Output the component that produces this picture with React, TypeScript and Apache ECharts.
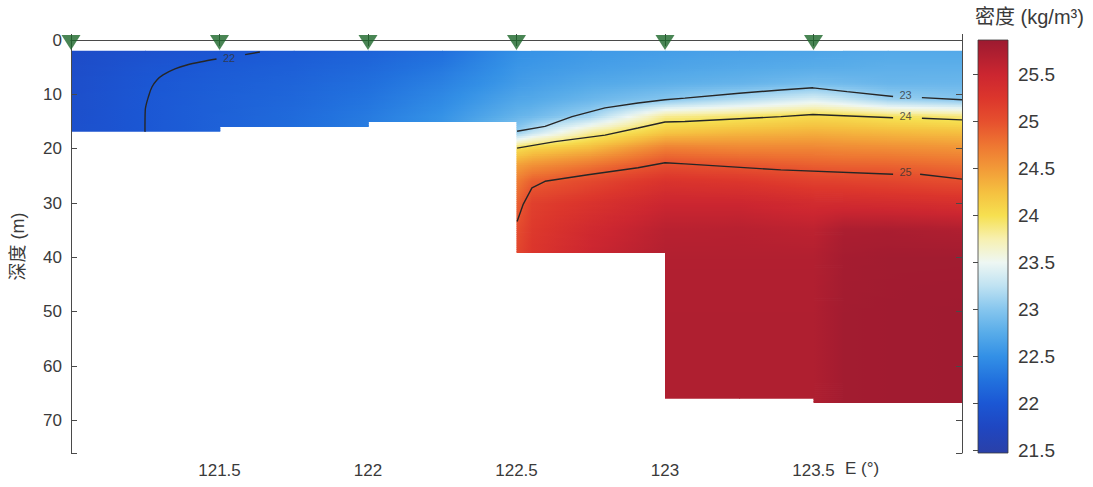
import React, { useEffect, useRef } from "react";
import * as echarts from "echarts";

// ---------- data ----------
const depthLevels = [2, 5, 8, 11, 14, 17, 20, 23, 26, 30, 35, 40, 50, 67];
const gridLon = [121.0, 121.25, 121.5, 121.75, 122.0, 122.25, 122.5, 122.55, 122.75, 123.0, 123.25, 123.5, 123.6, 123.75, 124.0];
const N = null;
// density (kg/m3) per longitude column, at depthLevels
const density: (number | null)[][] = [
  [21.82, 21.84, 21.86, 21.87, 21.88, 21.89, N, N, N, N, N, N, N, N],
  [21.9, 21.96, 21.99, 22.0, 22.0, 22.0, N, N, N, N, N, N, N, N],
  [21.97, 22.03, 22.06, 22.08, 22.09, 22.1, N, N, N, N, N, N, N, N],
  [22.03, 22.08, 22.12, 22.15, 22.18, 22.2, N, N, N, N, N, N, N, N],
  [22.1, 22.16, 22.22, 22.27, 22.32, 22.35, N, N, N, N, N, N, N, N],
  [22.22, 22.3, 22.38, 22.45, 22.52, 22.56, N, N, N, N, N, N, N, N],
  [22.5, 22.55, 22.6, 22.7, 22.82, 23.05, 24.02, 24.45, 24.7, 24.88, 25.03, 25.1, N, N],
  [22.52, 22.57, 22.63, 22.72, 22.86, 23.25, 24.12, 24.55, 24.9, 25.15, 25.22, 25.27, N, N],
  [22.58, 22.63, 22.72, 22.85, 23.12, 23.8, 24.3, 24.75, 25.08, 25.3, 25.45, 25.52, N, N],
  [22.62, 22.68, 22.78, 23.0, 23.82, 24.2, 24.7, 25.03, 25.3, 25.5, 25.65, 25.7, 25.72, 25.72],
  [22.65, 22.72, 22.82, 23.2, 23.92, 24.3, 24.65, 24.97, 25.25, 25.5, 25.66, 25.7, 25.72, 25.72],
  [22.68, 22.75, 22.9, 23.4, 24.04, 24.35, 24.65, 24.9, 25.15, 25.42, 25.62, 25.7, 25.72, 25.72],
  [22.7, 22.76, 22.88, 23.3, 24.02, 24.33, 24.62, 24.88, 25.13, 25.42, 25.75, 25.8, 25.82, 25.82],
  [22.72, 22.78, 22.84, 23.1, 23.95, 24.3, 24.6, 24.87, 25.1, 25.4, 25.76, 25.82, 25.83, 25.83],
  [22.72, 22.78, 22.85, 23.0, 23.88, 24.25, 24.55, 24.8, 25.03, 25.35, 25.72, 25.82, 25.84, 25.84],
];

const stationLon = [121.0, 121.5, 122.0, 122.5, 123.0, 123.5];
const stationBottom = [16.9, 16.0, 15.1, 39.2, 66.0, 66.8];

// isopycnal contours (two segments each, broken by the label)
const c22aLon = [121.249, 121.25, 121.262, 121.273, 121.29, 121.31, 121.35, 121.39, 121.44, 121.49];
const c22aDepth = [16.9, 12.9, 10.2, 8.6, 7.3, 6.4, 5.3, 4.6, 4.0, 3.5];
const c22bLon = [121.586, 121.636];
const c22bDepth = [2.7, 2.2];
const c23aLon = [122.502, 122.596, 122.687, 122.798, 122.909, 123.0, 123.067, 123.25, 123.39, 123.498, 123.613, 123.768];
const c23aDepth = [16.8, 15.9, 14.1, 12.5, 11.6, 11.0, 10.7, 9.8, 9.2, 8.8, 9.5, 10.4];
const c23bLon = [123.865, 124.0];
const c23bDepth = [10.6, 11.0];
const c24aLon = [122.502, 122.63, 122.798, 122.909, 123.0, 123.067, 123.39, 123.498, 123.768];
const c24aDepth = [19.9, 18.7, 17.5, 16.2, 15.1, 15.0, 14.1, 13.7, 14.3];
const c24bLon = [123.865, 124.0];
const c24bDepth = [14.4, 14.7];
const c25aLon = [122.502, 122.522, 122.552, 122.596, 122.741, 122.909, 123.0, 123.067, 123.39, 123.768];
const c25aDepth = [33.4, 30.3, 27.2, 26.0, 24.8, 23.5, 22.6, 22.8, 23.9, 24.7];
const c25bLon = [123.859, 124.0];
const c25bDepth = [24.7, 25.6];

const contourLabelText = ["22", "23", "24", "25"];
const contourLabelLon = [121.532, 123.81, 123.81, 123.81];
const contourLabelDepth = [3.3, 10.1, 14.0, 24.3];

const xTickLabels = [121.5, 122, 122.5, 123, 123.5];
const colorbarTicks = [21.5, 22, 22.5, 23, 23.5, 24, 24.5, 25, 25.5];
const cbMin = 21.47;
const cbMax = 25.87;

// colormap
const cmapStops = [21.47, 21.75, 22, 22.25, 22.5, 22.75, 23, 23.25, 23.5, 23.75, 24, 24.25, 24.5, 24.75, 25, 25.25, 25.5, 25.87];
const cmapColors = ["#2a40a8", "#1f47c2", "#1b57d4", "#2272de", "#3390e6", "#58ace9", "#86c6ee", "#bfe2f2", "#eef7f3", "#f7f0b0", "#f6e050", "#f5c040", "#f29a38", "#ee7632", "#e6502e", "#dc362c", "#cc2630", "#9c1a30"];

function hex2rgb(h: string): number[] {
  return [parseInt(h.slice(1, 3), 16), parseInt(h.slice(3, 5), 16), parseInt(h.slice(5, 7), 16)];
}
const cmapRgb = cmapColors.map(hex2rgb);
function cmap(v: number): string {
  const n = cmapStops.length;
  if (v <= cmapStops[0]) return cmapColors[0];
  if (v >= cmapStops[n - 1]) return cmapColors[n - 1];
  let k = 0;
  while (v > cmapStops[k + 1]) k++;
  const t = (v - cmapStops[k]) / (cmapStops[k + 1] - cmapStops[k]);
  const a = cmapRgb[k], b = cmapRgb[k + 1];
  return `rgb(${Math.round(a[0] + (b[0] - a[0]) * t)},${Math.round(a[1] + (b[1] - a[1]) * t)},${Math.round(a[2] + (b[2] - a[2]) * t)})`;
}

// build quads table
function buildQuads() {
  const quads: number[][] = [];
  for (let i = 0; i < gridLon.length - 1; i++) {
    const mid = (gridLon[i] + gridLon[i + 1]) / 2;
    let s = 0;
    for (let k = 0; k < stationLon.length; k++) if (stationLon[k] <= mid) s = k;
    const bottom = stationBottom[s];
    for (let j = 0; j < depthLevels.length - 1; j++) {
      const a = density[i][j], b = density[i + 1][j], c = density[i][j + 1], d = density[i + 1][j + 1];
      if (a == null || b == null || c == null || d == null) continue;
      if (depthLevels[j] >= bottom) continue;
      quads.push([gridLon[i], gridLon[i + 1], depthLevels[j], depthLevels[j + 1], bottom, a, b, c, d]);
    }
  }
  return quads;
}

const FONT = "'Liberation Sans', Arial, Helvetica, sans-serif";
const CJK = "'Liberation Sans', 'Noto Sans CJK SC', sans-serif";
const TXT = "#3a3a3a";
const AX = "#4a4a4a";

export default function App() {
  const ref = useRef<HTMLDivElement>(null);
  useEffect(() => {
    if (!ref.current) return;
    const chart = echarts.init(ref.current, undefined, { renderer: "svg" });
    const quads = buildQuads();

    const contourSeg = (lon: number[], dep: number[], smooth = false) => ({
      type: "line",
      xAxisIndex: 0,
      yAxisIndex: 0,
      data: lon.map((x, i) => [x, dep[i]]),
      showSymbol: false,
      symbol: "none",
      smooth: smooth ? 0.3 : false,
      silent: true,
      z: 4,
      lineStyle: { color: "#262626", width: 1.4 },
    });

    const option: any = {
      animation: false,
      backgroundColor: "#ffffff",
      grid: [
        { left: 71, top: 40, width: 891, height: 413, outerBoundsMode: "none", containLabel: false },
        { left: 978, top: 40, width: 30, height: 413, outerBoundsMode: "none", containLabel: false },
      ],
      xAxis: [
        {
          gridIndex: 0, type: "value", min: 121, max: 124, interval: 0.5, position: "bottom", z: 10,
          axisLine: { show: true, lineStyle: { color: AX, width: 1 } },
          axisTick: { show: true, inside: true, length: 6, lineStyle: { color: AX } },
          axisLabel: {
            color: TXT, fontSize: 17, fontFamily: FONT, margin: 9,
            formatter: (v: number) => (xTickLabels.indexOf(v) >= 0 ? String(v) : ""),
          },
          splitLine: { show: false },
        },
        {
          gridIndex: 0, type: "value", min: 121, max: 124, interval: 0.5, position: "top", z: 10,
          axisLine: { show: true, lineStyle: { color: AX, width: 1 } },
          axisTick: { show: true, inside: true, length: 6, lineStyle: { color: AX } },
          axisLabel: { show: false },
          splitLine: { show: false },
        },
        { gridIndex: 1, type: "value", min: 0, max: 1, show: false },
      ],
      yAxis: [
        {
          gridIndex: 0, type: "value", min: 0, max: 76, interval: 10, inverse: true, position: "left", z: 10,
          name: "深度 (m)", nameLocation: "middle", nameGap: 44, nameRotate: 90,
          nameTextStyle: { fontSize: 18, color: TXT, fontFamily: CJK },
          axisLine: { show: true, lineStyle: { color: AX, width: 1 } },
          axisTick: { show: true, inside: true, length: 6, lineStyle: { color: AX } },
          axisLabel: {
            color: TXT, fontSize: 17, fontFamily: FONT, margin: 9,
            formatter: (v: number) => (v % 10 === 0 ? String(v) : ""),
          },
          splitLine: { show: false },
        },
        {
          gridIndex: 0, type: "value", min: 0, max: 76, interval: 10, inverse: true, position: "right", z: 10,
          axisLine: { show: true, lineStyle: { color: AX, width: 1 } },
          axisTick: { show: true, inside: true, length: 6, lineStyle: { color: AX } },
          axisLabel: { show: false },
          splitLine: { show: false },
        },
        {
          gridIndex: 1, type: "value", min: cbMin, max: cbMax, position: "right", z: 10,
          axisLine: { show: false },
          axisTick: { show: true, inside: true, length: 5, customValues: colorbarTicks, lineStyle: { color: AX } },
          axisLabel: {
            show: true, customValues: colorbarTicks, color: TXT, fontSize: 19, fontFamily: FONT, margin: 10,
            formatter: (v: number) => String(v),
          },
          splitLine: { show: false },
        },
      ],
      graphic: [
        { type: "text", left: 845, top: 460, style: { text: "E (°)", fontSize: 17, fontFamily: FONT, fill: TXT } },
        { type: "text", left: 975, top: 7, style: { text: "密度 (kg/m³)", fontSize: 20, fontFamily: CJK, fill: TXT } },
      ],
      series: [
        {
          type: "custom",
          xAxisIndex: 0,
          yAxisIndex: 0,
          data: quads,
          encode: { x: [0, 1], y: [2, 3] },
          silent: true,
          clip: true,
          z: 1,
          renderItem: (params: any, api: any) => {
            const lon0 = api.value(0), lon1 = api.value(1), d0 = api.value(2), d1 = api.value(3), bottom = api.value(4);
            const vTL = api.value(5), vTR = api.value(6), vBL = api.value(7), vBR = api.value(8);
            const pTL = api.coord([lon0, d0]);
            const pBR = api.coord([lon1, d1]);
            const lastRow = d1 >= bottom;
            const yBottom = api.coord([lon0, Math.min(d1, bottom)])[1];
            const x0 = pTL[0], x1 = pBR[0], y0 = pTL[1], yFull = pBR[1];
            const h = yBottom - y0;
            const n = Math.max(1, Math.ceil(h / 2));
            const children: any[] = [];
            for (let k = 0; k < n; k++) {
              const ya = y0 + (h * k) / n, yb = y0 + (h * (k + 1)) / n;
              const t = ((ya + yb) / 2 - y0) / (yFull - y0);
              const vl = vTL + (vBL - vTL) * t, vr = vTR + (vBR - vTR) * t;
              const stops = [0, 0.25, 0.5, 0.75, 1].map((s) => ({ offset: s, color: cmap(vl + (vr - vl) * s) }));
              const extra = k === n - 1 && lastRow ? 0 : 0.8;
              children.push({
                type: "rect",
                shape: { x: x0, y: ya, width: x1 - x0 + 0.8, height: yb - ya + extra },
                style: { fill: new echarts.graphic.LinearGradient(0, 0, 1, 0, stops) },
                silent: true,
              });
            }
            return { type: "group", children };
          },
        },
        contourSeg(c22aLon, c22aDepth, true),
        contourSeg(c22bLon, c22bDepth),
        contourSeg(c23aLon, c23aDepth),
        contourSeg(c23bLon, c23bDepth),
        contourSeg(c24aLon, c24aDepth),
        contourSeg(c24bLon, c24bDepth),
        contourSeg(c25aLon, c25aDepth),
        contourSeg(c25bLon, c25bDepth),
        {
          type: "scatter",
          xAxisIndex: 0,
          yAxisIndex: 0,
          silent: true,
          z: 5,
          symbolSize: 0,
          data: contourLabelText.map((t, i) => [contourLabelLon[i], contourLabelDepth[i], t]),
          label: {
            show: true, position: "inside", formatter: (p: any) => p.value[2],
            fontSize: 11, color: "#333", fontFamily: FONT,
          },
        },
        {
          type: "scatter",
          xAxisIndex: 0,
          yAxisIndex: 0,
          silent: true,
          clip: false,
          z: 12,
          symbol: "triangle",
          symbolRotate: 180,
          symbolSize: [19, 15],
          symbolOffset: [0, 2.5],
          itemStyle: { color: "#1b6629" },
          data: stationLon.map((l) => [l, 0]),
        },
        {
          type: "custom",
          xAxisIndex: 2,
          yAxisIndex: 2,
          data: [[0, 1, cbMin, cbMax]],
          encode: { x: [0, 1], y: [2, 3] },
          silent: true,
          renderItem: (params: any, api: any) => {
            const lo = api.value(2), hi = api.value(3);
            const pTop = api.coord([api.value(0), hi]);
            const pBot = api.coord([api.value(1), lo]);
            const stops = cmapStops
              .map((v, i) => ({ offset: (hi - v) / (hi - lo), color: cmapColors[i] }))
              .reverse();
            return {
              type: "rect",
              shape: { x: pTop[0], y: pTop[1], width: pBot[0] - pTop[0], height: pBot[1] - pTop[1] },
              style: { fill: new echarts.graphic.LinearGradient(0, 0, 0, 1, stops), stroke: "#3a3a3a", lineWidth: 0.8 },
            };
          },
        },
      ],
    };
    chart.setOption(option);
    return () => chart.dispose();
  }, []);
  return <div ref={ref} style={{ position: "fixed", left: 0, top: 0, width: 1093, height: 487 }} />;
}
